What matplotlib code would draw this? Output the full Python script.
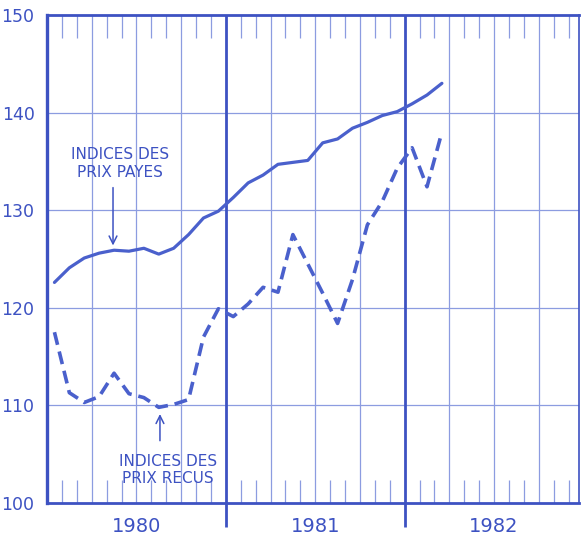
import matplotlib
matplotlib.use("Agg")
import matplotlib.pyplot as plt
import numpy as np

# Monthly indices, Jan 1980 .. Mar 1982
months = np.arange(27) + 0.5
prix_payes = [122.6, 124.1, 125.1, 125.6, 125.9, 125.8, 126.1, 125.5, 126.1, 127.5,
              129.2, 129.9, 131.3, 132.8, 133.6, 134.7, 134.9, 135.1, 136.9, 137.3,
              138.4, 139.0, 139.7, 140.1, 140.9, 141.8, 143.0]
prix_recus = [117.5, 111.3, 110.3, 110.9, 113.3, 111.2, 110.8, 109.8, 110.1, 110.6,
              117.0, 119.9, 119.1, 120.4, 122.1, 121.6, 127.5, 124.5, 121.5, 118.4,
              122.9, 128.5, 130.9, 134.3, 136.4, 132.4, 138.0]
years = ["1980", "1981", "1982"]
yticks = [100, 110, 120, 130, 140, 150]

main = "#4a60cc"
txt = "#3d52c2"
grid = "#8c9ce0"

W, H = 581, 539
fig = plt.figure(figsize=(W / 100, H / 100), dpi=100)
x0, x1 = 47, 579
ytop, ybot = 15, 503
ax = fig.add_axes([x0 / W, (H - ybot) / H, (x1 - x0) / W, (ybot - ytop) / H])
xmax = 35.7
ax.set_xlim(0, xmax)
ax.set_ylim(100, 150)

# grid
for v in [110, 120, 130, 140]:
    ax.axhline(v, color=grid, lw=0.9, zorder=1)
for m in range(3, 36, 3):
    if m % 12 == 0:
        ax.vlines(m, 97.55, 150, color=txt, lw=2.0, zorder=2, clip_on=False)
    else:
        ax.axvline(m, color=grid, lw=0.9, zorder=1)
tick_len = 2.35
for m in range(1, 36):
    if m % 3 != 0:
        ax.vlines(m, 150 - tick_len, 150, color=grid, lw=0.9, zorder=1)
        ax.vlines(m, 100, 100 + tick_len, color=grid, lw=0.9, zorder=1)

# spines
for side, lw in [("left", 2.4), ("bottom", 2.0), ("top", 2.0), ("right", 1.2)]:
    ax.spines[side].set_color(txt)
    ax.spines[side].set_linewidth(lw)

ax.set_xticks([])
ax.set_yticks(yticks)
ax.set_yticklabels([str(v) for v in yticks], fontsize=12.5, color=txt)
ax.tick_params(axis="y", length=0, pad=9)

# curves
ax.plot(months, prix_payes, color=main, lw=2.3, solid_capstyle="round",
        solid_joinstyle="round", zorder=5)
ax.plot(months, prix_recus, color=main, lw=2.6, dashes=(3.6, 1.9),
        dash_capstyle="butt", zorder=5)

# year labels
for i, y in enumerate(years):
    ax.text(6 + 12 * i, 97.55, y, ha="center", va="center", fontsize=14,
            color=txt, clip_on=False)

# annotations
ax.text(4.9, 134.8, "INDICES DES\nPRIX PAYES", ha="center", va="center",
        fontsize=11, color=txt, linespacing=1.25)
ax.annotate("", xy=(4.43, 126.1), xytext=(4.43, 132.6),
            arrowprops=dict(arrowstyle="->", color=txt, lw=1.1,
                            mutation_scale=14))
ax.text(8.1, 103.4, "INDICES DES\nPRIX RECUS", ha="center", va="center",
        fontsize=11, color=txt, linespacing=1.2)
ax.annotate("", xy=(7.58, 109.4), xytext=(7.58, 106.1),
            arrowprops=dict(arrowstyle="->", color=txt, lw=1.1,
                            mutation_scale=14))

fig.savefig("out.png", dpi=100, facecolor="white")
